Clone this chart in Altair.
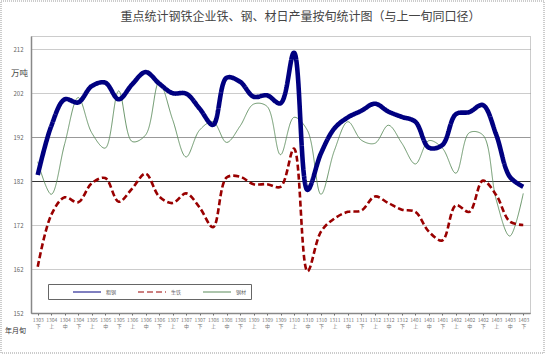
import altair as alt
import pandas as pd

title_text = "重点统计钢铁企业铁、钢、材日产量按旬统计图（与上一旬同口径）"

months = ["1303", "1304", "1304", "1304", "1305", "1305", "1305", "1306", "1306", "1306",
          "1307", "1307", "1307", "1308", "1308", "1308", "1309", "1309", "1309", "1310",
          "1310", "1310", "1311", "1311", "1311", "1312", "1312", "1312", "1401", "1401",
          "1401", "1402", "1402", "1402", "1403", "1403", "1403"]
dekads = ["下", "上", "中", "下", "上", "中", "下", "上", "中", "下",
          "上", "中", "下", "上", "中", "下", "上", "中", "下", "上",
          "中", "下", "上", "中", "下", "上", "中", "下", "上", "中",
          "下", "上", "中", "下", "上", "中", "下"]

crude_steel = [183.4, 194.5, 200.6, 199.9, 203.6, 204.4, 200.6, 204.0, 206.8, 204.2,
               202.0, 201.9, 198.5, 194.8, 205.5, 204.6, 201.2, 201.5, 199.7, 211.2,
               180.0, 188.3, 194.0, 196.5, 198.0, 199.6, 197.8, 196.6, 195.5, 189.6,
               190.2, 197.2, 197.7, 199.3, 192.5, 183.0, 180.7]
pig_iron = [162.5, 174.3, 178.3, 177.2, 181.5, 182.7, 177.3, 180.3, 183.7, 178.5,
            177.0, 179.2, 176.0, 171.5, 182.8, 183.0, 181.3, 181.3, 180.7, 189.4,
            161.5, 170.5, 173.5, 175.0, 175.3, 178.5, 177.0, 175.5, 175.0, 170.5,
            168.5, 176.5, 175.0, 182.1, 178.8, 172.8, 172.0]
steel_products = [186.4, 179.0, 190.5, 201.0, 193.0, 189.5, 202.5, 191.0, 192.5, 204.5,
                  196.0, 187.5, 193.6, 195.5, 190.8, 194.5, 199.5, 199.0, 188.0, 196.5,
                  193.5, 179.0, 189.0, 195.5, 191.3, 190.6, 194.7, 190.6, 185.9, 191.2,
                  189.5, 183.8, 193.0, 192.5, 177.7, 169.5, 179.2]

series_names = ["粗钢", "生铁", "钢材"]
y_ticks = [152, 162, 172, 182, 192, 202, 212]

periods = [m + "|" + d for m, d in zip(months, dekads)]

rows = []
# draw order: thin green first, then red, blue on top
for name, vals in [("钢材", steel_products), ("生铁", pig_iron), ("粗钢", crude_steel)]:
    for p, v in zip(periods, vals):
        rows.append({"旬": p, "系列": name, "日产量": v})
df = pd.DataFrame(rows)

font = "Noto Sans CJK SC"

legend = alt.Legend(
    title=None, orient="none", legendX=17, legendY=248, direction="horizontal",
    symbolType="M-4,0H4", symbolSize=49, symbolStrokeWidth=1, symbolOffset=31,
    labelFontSize=5, labelFont=font, labelColor="#666", labelOffset=15,
    labelExpr="datum.label == '钢材' ? datum.label + '                        ' : datum.label",
    columnPadding=0, padding=4, strokeColor="#666", fillColor="white",
)

line_width = {
    "condition": [
        {"test": "datum['系列'] == '粗钢'", "value": 4.6},
        {"test": "datum['系列'] == '生铁'", "value": 2.6},
    ],
    "value": 0.9,
}

lines = alt.Chart(df).mark_line(interpolate="catmull-rom").encode(
    x=alt.X("旬:N", sort=periods, scale=alt.Scale(type="point", padding=0.5),
            axis=alt.Axis(
                title="年月旬", titleX=-16, titleY=17, titleFontSize=7, titleFont=font,
                titleFontWeight="normal", titleColor="#333", titleAlign="center",
                titleBaseline="middle", labelAngle=0, labelFontSize=5, labelFont=font,
                labelColor="#777", labelPadding=2, labelOverlap=False,
                labelExpr="split(datum.label, '|')", labelLineHeight=6,
                tickSize=2, tickColor="#666", domainColor="#888", domainWidth=1.5,
                grid=False)),
    y=alt.Y("日产量:Q", scale=alt.Scale(domain=[152, 215], nice=False, zero=False),
            axis=alt.Axis(
                values=y_ticks, title="万吨", titleAngle=0, titleX=-12, titleY=36,
                titleFontSize=8.5, titleFont=font, titleFontWeight="normal", titleColor="#444",
                titleAlign="center", titleBaseline="middle", labelFontSize=6, labelFont=font,
                labelColor="#666", labelPadding=8, ticks=False, domainColor="#888",
                domainWidth=1.5, grid=True,
                gridColor={"condition": {"test": "datum.value == 182", "value": "#333"},
                           "value": "#999"},
                gridDash={"condition": {"test": "datum.value == 182 || datum.value == 192",
                                        "value": []}, "value": [1, 1]},
                gridWidth=1)),
    color=alt.Color("系列:N", sort=series_names,
                    scale=alt.Scale(domain=series_names,
                                    range=["#000080", "#990000", "#5B8B5B"]),
                    legend=legend),
    strokeDash=alt.StrokeDash("系列:N", sort=series_names,
                              scale=alt.Scale(domain=series_names,
                                              range=[[1, 0], [6, 3], [1, 0]]),
                              legend=legend),
    strokeWidth=line_width,
)

border = alt.Chart(pd.DataFrame({"k": [0]})).mark_rect(
    fill=None, stroke="#999", strokeDash=[1, 1], strokeWidth=1
).encode(x=alt.value(-30), x2=alt.value(513), y=alt.value(-35), y2=alt.value(317))

chart = alt.layer(lines, border).properties(
    width=499, height=277,
    padding={"left": 31, "top": 36, "right": 15, "bottom": 41},
    autosize=alt.AutoSizeParams(type="none"),
    title=alt.TitleParams(title_text, fontSize=12, font=font, fontWeight="normal",
                          color="#444", anchor="middle", offset=-23, dx=20),
).configure_view(stroke="#999", strokeDash=[1, 1], strokeWidth=1)

chart.save("out.html", embed_options={"renderer": "svg", "actions": False})
